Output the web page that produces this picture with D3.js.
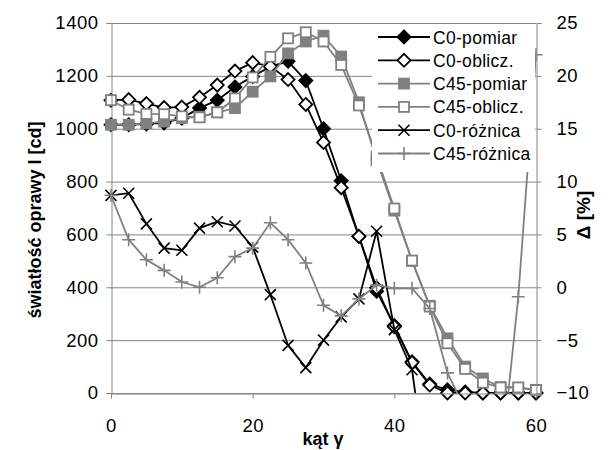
<!DOCTYPE html>
<html><head><meta charset="utf-8">
<script src="https://cdn.jsdelivr.net/npm/d3@7"></script>
<style>body{margin:0;background:#fff}text{font-family:"Liberation Sans",Arial,sans-serif}</style>
</head><body><svg id="c" width="608" height="450"></svg>
<script>
const angles = [0,2.5,5,7.5,10,12.5,15,17.5,20,22.5,25,27.5,30,32.5,35,37.5,40,42.5,45,47.5,50,52.5,55,57.5,60];
const c0Pomiar  = [1015,1015,1018,1022,1040,1078,1108,1158,1198,1235,1255,1182,1000,803,592,385,255,118,34,12,4,0,0,0,0];
const c0Oblicz  = [1108,1110,1095,1080,1082,1119,1165,1218,1250,1236,1186,1092,948,777,593,398,251,115,30,0,0,0,0,0,0];
const c45Pomiar = [1015,1015,1020,1027,1040,1045,1062,1078,1140,1198,1285,1330,1352,1273,1100,880,690,500,330,207,100,55,22,20,12];
const c45Oblicz = [1108,1072,1056,1055,1047,1043,1062,1115,1194,1272,1342,1365,1330,1241,1088,895,698,501,327,188,91,39,21,21,11];
const c0Roznica = [8.7,8.9,6.0,3.7,3.5,5.6,6.2,5.8,3.8,-0.7,-5.5,-7.6,-5.0,-2.8,-1.1,5.3,-4.0,-7.8,-20,null,null,null,null,null,null];
const c45Roznica= [8.7,4.5,2.6,1.6,0.5,0.0,0.9,2.9,3.7,6.1,4.5,2.3,-1.7,-2.7,-1.1,0.2,-0.1,-0.1,-2.0,-8.1,-11.5,-20,-17,-0.9,22];
const xTicks = [0,20,40,60];
const yLeftTicks = [0,200,400,600,800,1000,1200,1400];
const yRightTicks = [-10,-5,0,5,10,15,20,25];
const seriesNames = ["C0-pomiar","C0-oblicz.","C45-pomiar","C45-oblicz.","C0-różnica","C45-różnica"];

const L=111,R=536,T=23,B=393;
const svg=d3.select("#c");
const x=d3.scaleLinear().domain([0,60]).range([L,R]);
const yL=d3.scaleLinear().domain([0,1400]).range([B,T]);
const yR=d3.scaleLinear().domain([-10,25]).range([B,T]);
const GRID="#868686", GRAY="#808080";

svg.append("defs").append("clipPath").attr("id","pc").append("rect")
  .attr("x",L).attr("y",T).attr("width",R-L).attr("height",B-T);

svg.append("g").selectAll("line").data(yLeftTicks).join("line")
  .attr("x1",L).attr("x2",R).attr("y1",d=>yL(d)+0.5).attr("y2",d=>yL(d)+0.5)
  .attr("stroke",GRID).attr("stroke-width",1);

const series=[
 {name:seriesNames[0],vals:c0Pomiar,scale:yL,color:"#000",marker:"diamond",fill:"#000"},
 {name:seriesNames[1],vals:c0Oblicz,scale:yL,color:"#000",marker:"diamond",fill:"#fff"},
 {name:seriesNames[2],vals:c45Pomiar,scale:yL,color:GRAY,marker:"square",fill:GRAY},
 {name:seriesNames[3],vals:c45Oblicz,scale:yL,color:GRAY,marker:"square",fill:"#fff"},
 {name:seriesNames[4],vals:c0Roznica,scale:yR,color:"#000",marker:"x",fill:"none"},
 {name:seriesNames[5],vals:c45Roznica,scale:yR,color:GRAY,marker:"plus",fill:"none"}
];

function drawMarker(g,s,cx,cy){
  if(s.marker==="diamond"){
    g.append("path").attr("d",`M${cx},${cy-6.5}L${cx+6.5},${cy}L${cx},${cy+6.5}L${cx-6.5},${cy}Z`)
     .attr("fill",s.fill).attr("stroke",s.color).attr("stroke-width",1.8);
  } else if(s.marker==="square"){
    g.append("rect").attr("x",cx-5).attr("y",cy-5).attr("width",10).attr("height",10)
     .attr("fill",s.fill).attr("stroke",s.color).attr("stroke-width",1.8);
  } else if(s.marker==="x"){
    g.append("path").attr("d",`M${cx-5.5},${cy-5.5}L${cx+5.5},${cy+5.5}M${cx-5.5},${cy+5.5}L${cx+5.5},${cy-5.5}`)
     .attr("stroke",s.color).attr("stroke-width",1.6);
  } else {
    g.append("path").attr("d",`M${cx-6.5},${cy}L${cx+6.5},${cy}M${cx},${cy-6.5}L${cx},${cy+6.5}`)
     .attr("stroke",s.color).attr("stroke-width",1.6);
  }
}

series.forEach(s=>{
  const g=svg.append("g");
  const line=d3.line().defined(d=>d[1]!=null).x(d=>x(d[0])).y(d=>s.scale(d[1]));
  const pts=angles.map((a,i)=>[a,s.vals[i]]);
  g.append("path").attr("d",line(pts)).attr("fill","none").attr("stroke",s.color)
   .attr("stroke-width",1.8).attr("clip-path","url(#pc)");
  const dom=s.scale.domain();
  pts.forEach(p=>{ if(p[1]!=null && p[1]>=dom[0] && p[1]<=dom[1]) drawMarker(g,s,x(p[0]),s.scale(p[1])); });
});

const lg=svg.append("g");
lg.append("rect").attr("x",372).attr("y",24).attr("width",163).attr("height",148).attr("fill","#fff");
series.forEach((s,i)=>{
  const cy=37+i*23.3;
  lg.append("line").attr("x1",378).attr("x2",430).attr("y1",cy).attr("y2",cy).attr("stroke",s.color).attr("stroke-width",1.8);
  drawMarker(lg,s,404,cy);
  lg.append("text").attr("x",433).attr("y",cy+6.5).attr("font-size",17.5).attr("letter-spacing","0.3px").attr("fill","#000").text(s.name);
});

const axL=svg.append("g").attr("transform",`translate(${L+0.5},0)`)
  .call(d3.axisLeft(yL).tickValues(yLeftTicks).tickSize(5).tickPadding(8).tickFormat(d3.format("d")));
const axR=svg.append("g").attr("transform",`translate(${R+0.5},0)`)
  .call(d3.axisRight(yR).tickValues(yRightTicks).tickSize(5).tickPadding(15).tickFormat(d3.format("d")));
const axB=svg.append("g").attr("transform",`translate(0,${B+0.5})`)
  .call(d3.axisBottom(x).tickValues(xTicks).tickSize(5).tickPadding(20).tickFormat(d3.format("d")));
[axL,axR,axB].forEach(a=>{
  a.select(".domain").attr("stroke",GRID).attr("stroke-width",1);
  a.selectAll(".tick line").attr("stroke",GRID);
  a.selectAll("text").attr("font-size",18.5).attr("letter-spacing","0.5px").attr("fill","#000").attr("font-family","Liberation Sans, Arial, sans-serif");
});

svg.append("text").attr("transform","translate(41,220) rotate(-90)").attr("text-anchor","middle")
  .attr("font-size",18).attr("font-weight","bold").text("światłość oprawy I [cd]");
svg.append("text").attr("transform","translate(590,215) rotate(-90)").attr("text-anchor","middle")
  .attr("font-size",19).attr("font-weight","bold").text("Δ [%]");
svg.append("text").attr("x",323).attr("y",445).attr("text-anchor","middle")
  .attr("font-size",18).attr("font-weight","bold").text("kąt γ");
</script></body></html>
